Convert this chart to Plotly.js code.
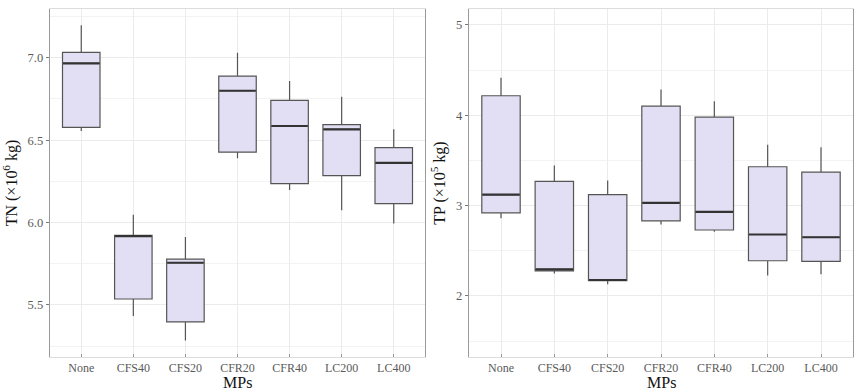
<!DOCTYPE html>
<html>
<head>
<meta charset="utf-8">
<script src="https://cdn.plot.ly/plotly-3.0.1.min.js"></script>
<style>html,body{margin:0;padding:0;background:#fff;}#chart{width:865px;height:392px;}</style>
</head>
<body>
<div id="chart"></div>
<script>
const categories = ["None","CFS40","CFS20","CFR20","CFR40","LC200","LC400"];

// TN (x10^6 kg)
const tnLower  = [6.556, 5.433, 5.284, 6.390, 6.198, 6.075, 5.994];
const tnQ1     = [6.578, 5.536, 5.397, 6.427, 6.236, 6.285, 6.115];
const tnMedian = [6.966, 5.917, 5.756, 6.800, 6.586, 6.566, 6.362];
const tnQ3     = [7.033, 5.923, 5.778, 6.889, 6.742, 6.594, 6.455];
const tnUpper  = [7.198, 6.048, 5.913, 7.030, 6.859, 6.764, 6.566];

// TP (x10^5 kg)
const tpLower  = [2.860, 2.250, 2.130, 2.790, 2.710, 2.227, 2.240];
const tpQ1     = [2.920, 2.277, 2.170, 2.830, 2.730, 2.390, 2.384];
const tpMedian = [3.122, 2.295, 2.177, 3.030, 2.930, 2.680, 2.650];
const tpQ3     = [4.215, 3.269, 3.122, 4.100, 3.978, 3.430, 3.370];
const tpUpper  = [4.414, 3.443, 3.277, 4.285, 4.155, 3.672, 3.646];

const xTitle = "MPs";

const fill = "#e2def3";
const edge = "#555555";
const serif = "Liberation Serif, Times New Roman, serif";

function boxTrace(lo, q1, med, q3, hi, xa, ya) {
  return {
    type: "box",
    x: categories,
    lowerfence: lo, q1: q1, median: med, q3: q3, upperfence: hi,
    xaxis: xa, yaxis: ya,
    fillcolor: fill,
    line: {color: edge, width: 1.2},
    whiskerwidth: 0,
    width: 0.72,
    boxpoints: false,
    hoverinfo: "skip",
    showlegend: false
  };
}
// thicker median bar drawn as a flat box at the median value
function medianTrace(med, xa, ya) {
  return {
    type: "box",
    x: categories,
    lowerfence: med, q1: med, median: med, q3: med, upperfence: med,
    xaxis: xa, yaxis: ya,
    fillcolor: "rgba(0,0,0,0)",
    line: {color: "#333333", width: 2.2},
    whiskerwidth: 0,
    width: 0.7,
    boxpoints: false,
    hoverinfo: "skip",
    showlegend: false
  };
}

const data = [
  boxTrace(tnLower, tnQ1, tnMedian, tnQ3, tnUpper, "x", "y"),
  medianTrace(tnMedian, "x", "y"),
  boxTrace(tpLower, tpQ1, tpMedian, tpQ3, tpUpper, "x2", "y2"),
  medianTrace(tpMedian, "x2", "y2")
];

const tickFont = {family: serif, size: 12.5, color: "#5a5a5a"};
const xTickFont = {family: serif, size: 12, color: "#5a5a5a"};
const gridC = "#ebebeb";
const minorC = "#f3f3f3";

function xAxis(dom, anchor) {
  return {
    domain: dom, anchor: anchor, type: "category",
    range: [-0.6, 6.6],
    showgrid: true, gridcolor: gridC, gridwidth: 1,
    showline: true, linecolor: "#dcdcdc", linewidth: 1, mirror: true,
    ticks: "inside", ticklen: 3, tickcolor: "#999",
    tickfont: xTickFont,
    zeroline: false, fixedrange: true
  };
}

const layout = {
  width: 865, height: 392,
  margin: {l: 0, r: 0, t: 9, b: 35},
  paper_bgcolor: "#fff", plot_bgcolor: "#fff",
  boxmode: "overlay",
  xaxis: xAxis([50/865, 425/865], "y"),
  xaxis2: xAxis([469/865, 853/865], "y2"),
  yaxis: {
    domain: [0, 1], anchor: "x",
    range: [5.184, 7.296],
    tickvals: [5.5, 6.0, 6.5, 7.0], ticktext: ["5.5","6.0","6.5","7.0"],
    showgrid: true, gridcolor: gridC, gridwidth: 1,
    minor: {tickvals: [5.25, 5.75, 6.25, 6.75, 7.25], showgrid: true, gridcolor: minorC, ticks: ""},
    showline: true, linecolor: "#9a9a9a", linewidth: 1.3, mirror: true,
    ticks: "outside", ticklen: 3, tickcolor: "#777",
    tickfont: tickFont,
    title: {text: "TN (×10<sup>6</sup> kg)", font: {family: serif, size: 16, color: "#111"}, standoff: 6},
    zeroline: false, fixedrange: true
  },
  yaxis2: {
    domain: [0, 1], anchor: "x2",
    range: [1.325, 5.175],
    tickvals: [2, 3, 4, 5], ticktext: ["2","3","4","5"],
    showgrid: true, gridcolor: gridC, gridwidth: 1,
    minor: {tickvals: [1.5, 2.5, 3.5, 4.5], showgrid: true, gridcolor: minorC, ticks: ""},
    showline: true, linecolor: "#9a9a9a", linewidth: 1.3, mirror: true,
    ticks: "outside", ticklen: 3, tickcolor: "#777",
    tickfont: tickFont,
    title: {text: "TP (×10<sup>5</sup> kg)", font: {family: serif, size: 16, color: "#111"}, standoff: 6},
    zeroline: false, fixedrange: true
  },
  annotations: [
    {text: xTitle, xref: "x domain", x: 0.5, yref: "paper", y: 0, yanchor: "top", yshift: -15,
     showarrow: false, font: {family: serif, size: 16, color: "#111"}},
    {text: xTitle, xref: "x2 domain", x: 0.5, yref: "paper", y: 0, yanchor: "top", yshift: -15,
     showarrow: false, font: {family: serif, size: 16, color: "#111"}}
  ]
};

Plotly.newPlot("chart", data, layout, {displayModeBar: false, staticPlot: true});
</script>
</body>
</html>
